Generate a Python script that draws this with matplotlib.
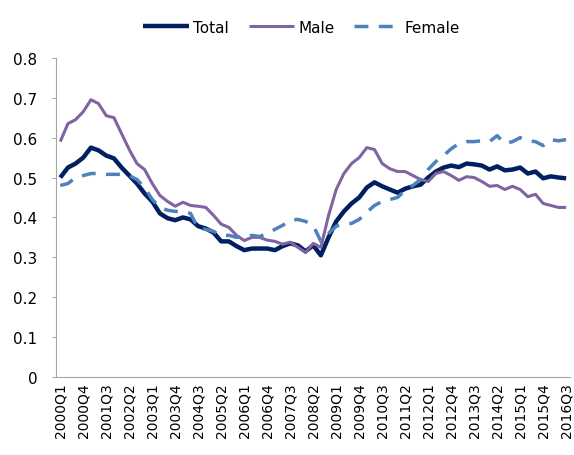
import matplotlib
matplotlib.use('Agg')
import matplotlib.pyplot as plt
import numpy as np

# quarterly labels 2000Q1 .. 2016Q3
quarters = [f"{y}Q{q}" for y in range(2000, 2017) for q in range(1, 5)][:67]

total = [0.50, 0.525, 0.535, 0.55, 0.575, 0.568, 0.555, 0.548, 0.525, 0.505,
         0.485, 0.46, 0.44, 0.41, 0.398, 0.393, 0.40, 0.395, 0.378, 0.372,
         0.362, 0.34, 0.34, 0.328, 0.318, 0.322, 0.322, 0.322, 0.318, 0.328,
         0.335, 0.33, 0.315, 0.33, 0.305, 0.35, 0.39, 0.415, 0.435, 0.45,
         0.475, 0.488, 0.478, 0.47, 0.462, 0.472, 0.478, 0.482, 0.50, 0.515,
         0.525, 0.53, 0.526, 0.535, 0.533, 0.53, 0.52, 0.528, 0.518, 0.52,
         0.525, 0.51, 0.515, 0.498, 0.503, 0.50, 0.498]

male = [0.59, 0.635, 0.645, 0.665, 0.695, 0.685, 0.655, 0.65, 0.61, 0.57,
        0.535, 0.52, 0.485, 0.455, 0.44, 0.428, 0.438, 0.43, 0.428, 0.425,
        0.405, 0.383, 0.375, 0.355, 0.342, 0.35, 0.35, 0.343, 0.34, 0.333,
        0.338, 0.325, 0.312, 0.335, 0.325, 0.405, 0.47, 0.51, 0.535, 0.55,
        0.575, 0.57, 0.535, 0.522, 0.515, 0.515, 0.505, 0.495, 0.49, 0.51,
        0.515, 0.505, 0.493, 0.502, 0.50, 0.49, 0.478, 0.48, 0.47, 0.478,
        0.47, 0.452, 0.458, 0.435, 0.43, 0.425, 0.425]

female = [0.48, 0.485, 0.50, 0.505, 0.51, 0.51, 0.508, 0.508, 0.508, 0.505,
          0.495, 0.475, 0.445, 0.425, 0.418, 0.415, 0.415, 0.41, 0.372, 0.37,
          0.365, 0.355, 0.355, 0.35, 0.353, 0.355, 0.352, 0.36, 0.37, 0.38,
          0.393, 0.395, 0.39, 0.38, 0.34, 0.36, 0.378, 0.383, 0.385, 0.395,
          0.413, 0.43, 0.44, 0.445, 0.45, 0.468, 0.48, 0.495, 0.52, 0.54,
          0.555, 0.572, 0.585, 0.59, 0.59, 0.592, 0.59, 0.605, 0.585, 0.59,
          0.60, 0.592, 0.59, 0.58, 0.595, 0.592, 0.595]

x = np.arange(len(quarters))

fig = plt.figure(figsize=(5.74, 4.56), dpi=100)
ax = fig.add_axes([0.097, 0.171, 0.896, 0.700])

ax.plot(x, total, color='#002060', lw=3.2, label='Total', solid_capstyle='butt')
ax.plot(x, male, color='#8064A2', lw=2.2, label='Male', solid_capstyle='butt')
ax.plot(x, female, color='#4F81BD', lw=2.5, ls=(0, (4, 3)), label='Female')

ax.set_ylim(0, 0.8)
ax.set_yticks(np.arange(0, 0.81, 0.1))
ax.set_yticklabels(['0', '0.1', '0.2', '0.3', '0.4', '0.5', '0.6', '0.7', '0.8'])
ax.set_xlim(-0.6, 66.5)
ax.set_xticks(x[::3])
ax.set_xticklabels(quarters[::3], rotation=90)

for s in ['top', 'right']:
    ax.spines[s].set_visible(False)
for s in ['left', 'bottom']:
    ax.spines[s].set_color('#A6A6A6')
ax.tick_params(axis='y', labelsize=11, length=3, color='#A6A6A6', pad=10)
ax.tick_params(axis='x', labelsize=10, length=0, pad=4)

fig.legend(loc='upper center', bbox_to_anchor=(0.525, 0.985), ncol=3, frameon=False,
           fontsize=11, handlelength=3.0, handletextpad=0.25, columnspacing=1.3)

fig.savefig('out.png', dpi=100)
